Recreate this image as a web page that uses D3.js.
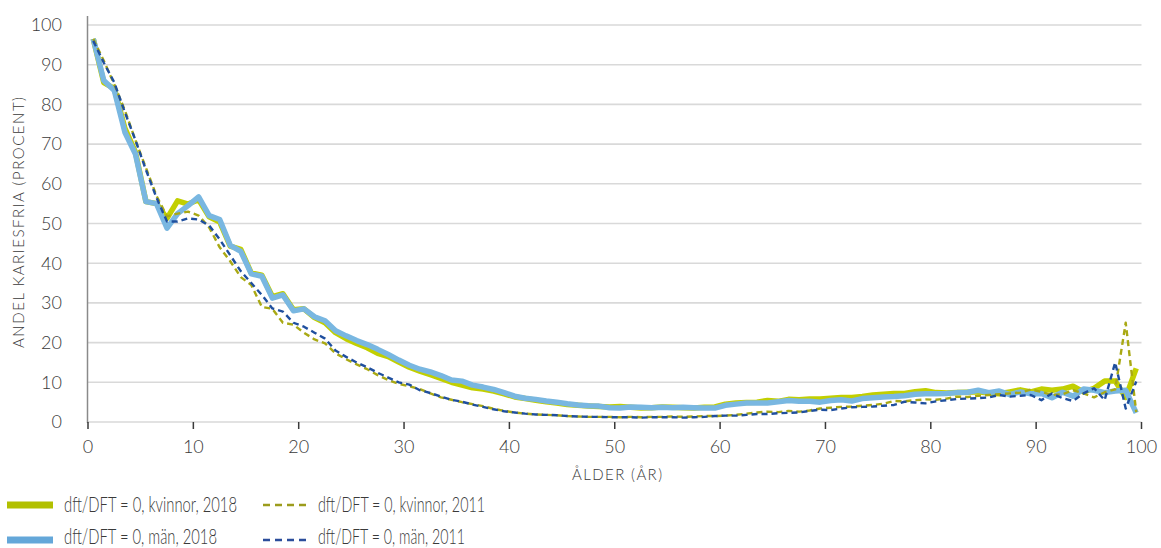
<!DOCTYPE html>
<html>
<head>
<meta charset="utf-8">
<script src="https://cdn.jsdelivr.net/npm/d3@7"></script>
<style>
  html, body { margin: 0; padding: 0; background: #fff; }
  svg { display: block; font-family: Lato, "Open Sans", sans-serif; }
</style>
</head>
<body>
<svg id="chart" width="1161" height="548"></svg>
<script>
// Ages are plotted at the middle of each one-year class (0.5 … 99.5)
const ages = d3.range(100).map(i => i + 0.5);

const xTicks = [0, 10, 20, 30, 40, 50, 60, 70, 80, 90, 100];
const yTicks = [0, 10, 20, 30, 40, 50, 60, 70, 80, 90, 100];

// Share without caries (dft/DFT = 0), percent, per age
const kvinnor2018 = [
  96.5, 85.5, 84, 74, 68, 55.5, 55, 51.3, 55.7, 54.9,
  56, 51.7, 50.4, 44.3, 43.5, 37.5, 37, 31.6, 32.3, 28.3,
  28.5, 26.3, 25, 22.5, 21, 19.8, 18.7, 17.3, 16.5, 15.1,
  13.8, 12.8, 11.9, 11, 10, 9.3, 8.6, 8.3, 7.8, 7.1,
  6.3, 5.9, 5.5, 5.1, 4.8, 4.4, 4.2, 4, 3.9, 3.8,
  3.9, 3.7, 3.5, 3.6, 3.8, 3.7, 3.6, 3.5, 3.7, 3.8,
  4.5, 4.8, 4.9, 5, 5.4, 5.2, 5.7, 5.6, 5.8, 5.8,
  6, 6.2, 6.2, 6.4, 6.8, 7, 7.2, 7.2, 7.6, 7.9,
  7.4, 7.3, 7.4, 7.5, 7.6, 7.3, 7.1, 7.6, 8.1, 7.6,
  8.3, 8, 8.3, 9, 7.6, 8.5, 10.3, 10.3, 6.2, 13.5
];

const man2018 = [
  96.5, 86, 83.5, 73, 67.5, 55.5, 55, 48.8, 52.5, 54.5,
  56.7, 52, 51, 44.5, 43, 37.3, 36.7, 31.2, 32, 28,
  28.5, 26.5, 25.5, 23, 21.7, 20.5, 19.5, 18.3, 17, 15.6,
  14.3, 13.3, 12.6, 11.7, 10.6, 10.3, 9.3, 8.8, 8.2, 7.4,
  6.5, 6, 5.7, 5.3, 5, 4.6, 4.3, 4.1, 4, 3.6,
  3.5, 3.8, 3.7, 3.6, 3.7, 3.6, 3.7, 3.6, 3.5, 3.5,
  4.2, 4.5, 4.8, 4.8, 4.8, 5.1, 5.4, 5.2, 5.2, 5,
  5.4, 5.6, 5.3, 5.9, 6.1, 6.3, 6.4, 6.6, 7, 7.1,
  7.1, 7.2, 7.4, 7.5, 8, 7.4, 7.8, 6.9, 7.6, 7.1,
  7.2, 6.1, 7.5, 6.5, 8.3, 8, 7.4, 7.8, 8, 2.3
];

const kvinnor2011 = [
  96.5, 91, 85, 78.5, 71, 64, 57, 51.8, 52.5, 53,
  52, 49, 44, 40.5, 36.5, 34.5, 29, 28.5, 25, 24.5,
  22.5, 20.8, 19.8, 17.3, 15.8, 14.5, 13.3, 11.8, 10.6, 9.6,
  9, 8.3, 7.2, 6.2, 5.6, 5, 4.5, 4, 3.3, 2.8,
  2.4, 2.1, 1.9, 1.8, 1.7, 1.5, 1.4, 1.3, 1.3, 1.3,
  1.2, 1.3, 1.2, 1.3, 1.3, 1.4, 1.3, 1.4, 1.5, 1.5,
  1.6, 1.8, 2.1, 2.4, 2.6, 2.5, 2.8, 2.6, 2.9, 3.4,
  3.6, 3.8, 3.9, 4.1, 4.3, 4.6, 5.3, 5.2, 5.5, 5.7,
  5.6, 5.9, 6.4, 6.3, 6.6, 6.8, 7, 7.2, 7.4, 8.2,
  7.6, 6.8, 7, 8, 7.2, 6.2, 7.5, 8.2, 25, 2.5
];

const man2011 = [
  96, 90.5, 85.5, 78, 71, 63.5, 56.5, 50.5, 50.5, 51.3,
  51, 49.5, 46, 42, 38, 35, 32, 28.6, 27.8, 25,
  24, 22.5, 21, 18, 16.4, 15, 13.8, 12.4, 11.2, 10,
  9.4, 8, 7.3, 6.4, 5.6, 5.1, 4.4, 3.8, 3.2, 2.7,
  2.4, 2.1, 1.9, 1.8, 1.7, 1.5, 1.4, 1.3, 1.3, 1.2,
  1.2, 1.2, 1.1, 1.2, 1.2, 1.2, 1.1, 1.2, 1.3, 1.5,
  1.6, 1.6, 1.8, 2, 2, 2.2, 2.3, 2.4, 2.8, 3.1,
  3, 3.4, 3.7, 3.8, 3.9, 4.1, 4.3, 5.1, 4.9, 4.7,
  5.2, 5.5, 5.8, 5.9, 6, 6.2, 6.8, 6.4, 6.6, 6.8,
  5.5, 7.2, 6, 5.3, 7.2, 8.5, 5.5, 15, 3.4, 10.2
];

const seriesLabels = [
  "dft/DFT = 0, kvinnor, 2018",
  "dft/DFT = 0, män, 2018",
  "dft/DFT = 0, kvinnor, 2011",
  "dft/DFT = 0, män, 2011"
];

const xTitle = "ÅLDER (ÅR)";
const yTitle = "ANDEL KARIESFRIA (PROCENT)";

// Drawing styles for each series: line in the plot, swatch in the legend
const styles = [
  { line: "#c2cf00", swatch: "#b2c000", width: 5.5, dash: null },
  { line: "#79b7e1", swatch: "#64a7d9", width: 5.5, dash: null },
  { line: "#a9a914", swatch: "#9c9c1c", width: 2.4, dash: "6,4" },
  { line: "#1f4f9e", swatch: "#2b4d9b", width: 2.4, dash: "6,4" }
];
const seriesData = [kvinnor2018, man2018, kvinnor2011, man2011];

const svg = d3.select("#chart");
const x = d3.scaleLinear().domain([0, 100]).range([88, 1141.5]);
const y = d3.scaleLinear().domain([0, 100]).range([422, 25]);

// Horizontal gridlines
svg.append("g")
  .selectAll("line")
  .data(yTicks)
  .join("line")
  .attr("x1", x(0)).attr("x2", x(100))
  .attr("y1", d => y(d)).attr("y2", d => y(d))
  .attr("stroke", "#d9d9d9")
  .attr("stroke-width", 1.6);

// Y axis: labels and vertical line
svg.append("g")
  .selectAll("text")
  .data(yTicks)
  .join("text")
  .attr("x", 62)
  .attr("y", d => y(d))
  .attr("dy", "0.35em")
  .attr("text-anchor", "end")
  .attr("font-size", 18)
  .attr("font-weight", 300)
  .attr("fill", "#3a3a3a")
  .text(d => d);

svg.append("line")
  .attr("x1", x(0) - 0.5).attr("x2", x(0) - 0.5)
  .attr("y1", 16).attr("y2", y(0) + 1)
  .attr("stroke", "#8a8a8a")
  .attr("stroke-width", 1.5);

// X axis: tick marks below the baseline and labels
const xAxis = svg.append("g");
xAxis.selectAll("line")
  .data(xTicks)
  .join("line")
  .attr("x1", d => x(d)).attr("x2", d => x(d))
  .attr("y1", y(0)).attr("y2", y(0) + 7)
  .attr("stroke", "#3a3a3a")
  .attr("stroke-width", 1.5);

xAxis.selectAll("text")
  .data(xTicks)
  .join("text")
  .attr("x", d => x(d))
  .attr("y", 453)
  .attr("text-anchor", "middle")
  .attr("font-size", 18)
  .attr("font-weight", 300)
  .attr("fill", "#3a3a3a")
  .text(d => d);

svg.append("text")
  .attr("x", 572).attr("y", 480)
  .attr("font-size", 15)
  .attr("font-weight", 300)
  .attr("textLength", 90)
  .attr("lengthAdjust", "spacing")
  .attr("fill", "#3a3a3a")
  .text(xTitle);

svg.append("text")
  .attr("transform", "translate(24,348) rotate(-90)")
  .attr("font-size", 15)
  .attr("font-weight", 300)
  .attr("textLength", 251)
  .attr("lengthAdjust", "spacing")
  .attr("fill", "#3a3a3a")
  .text(yTitle);

// Series lines
const line = d3.line()
  .x((d, i) => x(ages[i]))
  .y(d => y(d))
  .curve(d3.curveLinear);

svg.append("g")
  .selectAll("path")
  .data(seriesData)
  .join("path")
  .attr("d", d => line(d))
  .attr("fill", "none")
  .attr("stroke", (d, i) => styles[i].line)
  .attr("stroke-width", (d, i) => styles[i].width)
  .attr("stroke-dasharray", (d, i) => styles[i].dash)
  .attr("stroke-linejoin", "round");

// Legend: two columns, two rows
const legendPos = [
  { sx: 7, tx: 64, y: 505, w: 173 },
  { sx: 7, tx: 64, y: 540, w: 153 },
  { sx: 263, tx: 318, y: 505, w: 167 },
  { sx: 263, tx: 318, y: 540, w: 147 }
];
const legend = svg.append("g")
  .selectAll("g")
  .data(seriesLabels)
  .join("g");

legend.append("line")
  .attr("x1", (d, i) => legendPos[i].sx)
  .attr("x2", (d, i) => legendPos[i].sx + 46)
  .attr("y1", (d, i) => legendPos[i].y)
  .attr("y2", (d, i) => legendPos[i].y)
  .attr("stroke", (d, i) => styles[i].swatch)
  .attr("stroke-width", (d, i) => i < 2 ? 7 : 2.6)
  .attr("stroke-dasharray", (d, i) => i < 2 ? null : "7,5");

legend.append("text")
  .attr("x", (d, i) => legendPos[i].tx)
  .attr("y", (d, i) => legendPos[i].y - (i % 2 ? 3 : 0))
  .attr("dy", "0.35em")
  .attr("font-size", 21)
  .attr("font-weight", 300)
  .attr("textLength", (d, i) => legendPos[i].w)
  .attr("lengthAdjust", "spacingAndGlyphs")
  .attr("fill", "#3a3a3a")
  .text(d => d);
</script>
</body>
</html>
